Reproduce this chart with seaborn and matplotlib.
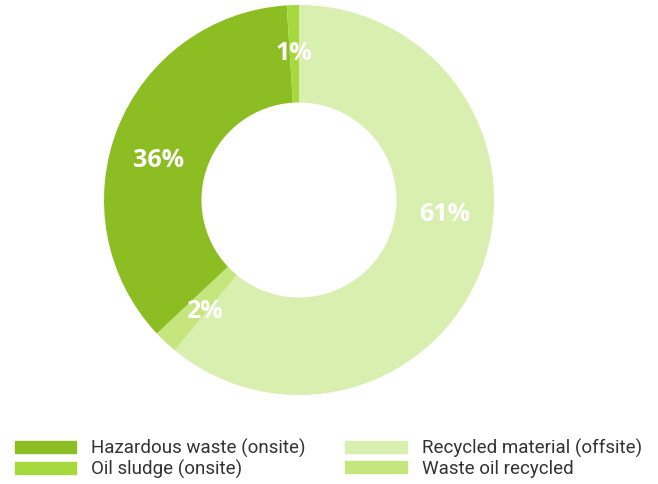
import matplotlib
matplotlib.use("Agg")
import matplotlib.pyplot as plt
import matplotlib.patches as mpatches
import seaborn as sns
import numpy as np

# Waste breakdown, clockwise from 12 o'clock
categories = ["Recycled material (offsite)", "Waste oil recycled",
              "Hazardous waste (onsite)", "Oil sludge (onsite)"]
shares = [61, 2, 36, 1]
colors = ["#d9efb0", "#c4e67c", "#8cbd22", "#a6d93d"]

legend_order = ["Hazardous waste (onsite)", "Oil sludge (onsite)",
                "Recycled material (offsite)", "Waste oil recycled"]

# small nudges (degrees, counter-clockwise) so labels sit like the original
label_nudge = [14, 3, 6, 0]

sns.set_theme(style="white")
plt.rcParams["font.family"] = ["Roboto", "DejaVu Sans"]

fig = plt.figure(figsize=(6.58, 4.84), dpi=100)
ax = fig.add_axes([104 / 658, 89 / 484, 390 / 658, 390 / 484])

wedges, _ = ax.pie(shares, colors=colors, startangle=90, counterclock=False,
                   radius=1.0, wedgeprops=dict(width=0.5, edgecolor="none"))

# percentage labels in the ring
total = sum(shares)
start = 90.0
for val, nudge in zip(shares, label_nudge):
    span = 360.0 * val / total
    mid = np.deg2rad(start - span / 2 + nudge)
    r = 0.75
    ax.text(r * np.cos(mid), r * np.sin(mid), f"{val}%", ha="center", va="center",
            color="white", fontsize=18, fontweight="bold",
            family=["Open Sans", "DejaVu Sans"])
    start -= span

ax.set_xlim(-1, 1)
ax.set_ylim(-1, 1)
ax.set_aspect("equal")
ax.axis("off")

lookup = dict(zip(categories, colors))
handles = [mpatches.Patch(color=lookup[c], label=c) for c in legend_order]
fig.legend(handles=handles, ncol=2, loc="upper left", bbox_to_anchor=(7 / 658, 1 - 431 / 484),
           frameon=False, fontsize=13.5, handlelength=3.3, handleheight=0.62,
           handletextpad=0.8, columnspacing=2.1, labelspacing=0.12,
           labelcolor="#333333", borderaxespad=0)

fig.savefig("out.png", dpi=100, facecolor="white")
